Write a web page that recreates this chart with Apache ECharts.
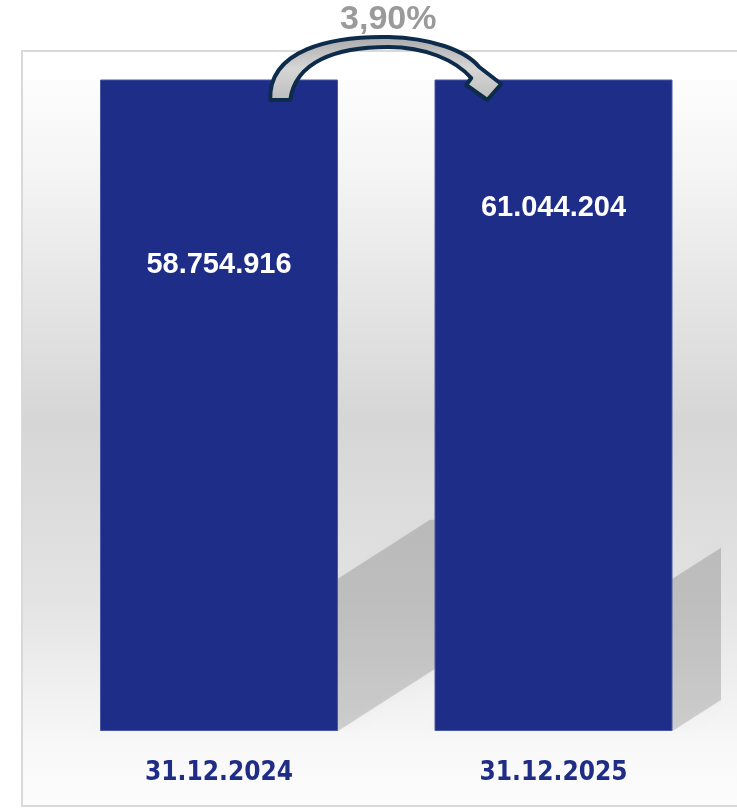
<!DOCTYPE html>
<html>
<head>
<meta charset="utf-8">
<script src="https://cdn.jsdelivr.net/npm/echarts@6/dist/echarts.min.js"></script>
<style>html,body{margin:0;padding:0;background:#fff;}#c{width:737px;height:808px;}</style>
</head>
<body>
<div id="c"></div>
<script>
// ---- data ----
const categories = ['31.12.2024', '31.12.2025'];
const values = [58754916, 61044204];
const axisMax = 58000000;          // value axis upper bound (both bars reach the top)
// ---- style (label lift above bar base, px) ----
const labelLift = [452, 509];

const BAR_W = 238;
const fmtNum = v => String(v).replace(/\B(?=(\d{3})+(?!\d))/g, '.');
const pct = ((values[1] / values[0] - 1) * 100).toFixed(2).replace('.', ',') + '%';

// curved arrow shape (relative to its anchor point)
echarts.graphic.registerShape('curvedArrow', echarts.graphic.extendShape({
  shape: {},
  buildPath: function (ctx) {
    ctx.moveTo(-116, 20);
    ctx.bezierCurveTo(-118, -30, -56, -44, 2, -43);
    ctx.bezierCurveTo(44, -42, 79, -30, 93, -13);
    ctx.lineTo(115, 4);
    ctx.lineTo(101, 20);
    ctx.lineTo(80, 5);
    ctx.lineTo(85, -2);
    ctx.bezierCurveTo(69, -20, 39, -33, 2, -33);
    ctx.bezierCurveTo(-51, -33, -91, -18, -96, 20);
    ctx.closePath();
  }
}));

const chart = echarts.init(document.getElementById('c'), null, {renderer: 'canvas'});

const option = {
  animation: false,
  grid: {left: 51.75, right: 16.25, top: 80, bottom: 77},
  xAxis: {
    type: 'category',
    data: categories,
    axisLine: {show: false},
    axisTick: {show: false},
    axisLabel: {
      color: '#1f2d86', fontWeight: 'bold', fontSize: 26,
      fontFamily: "'Liberation Sans Narrow','DejaVu Sans Condensed','Arial Narrow',sans-serif",
      margin: 29
    }
  },
  yAxis: {
    type: 'value', min: 0, max: axisMax, show: false,
    splitLine: {show: false}
  },
  series: [
    {
      type: 'custom',
      z: 1,
      clip: true,
      silent: true,
      data: categories.map((c, i) => [i, 0]),
      renderItem: function (params, api) {
        const base = api.coord([api.value(0), 0]);
        const L = 330, k = 0.64;
        const x0 = base[0] - BAR_W / 2, x1 = base[0] + BAR_W / 2, y = base[1];
        return {
          type: 'polygon',
          shape: {points: [[x0, y], [x1, y], [x1 + L, y - k * L], [x0 + L, y - k * L]]},
          style: {
            fill: 'rgba(0,0,0,0.15)',
            shadowBlur: 10, shadowColor: 'rgba(0,0,0,0.14)'
          }
        };
      }
    },
    {
      type: 'bar',
      z: 3,
      barWidth: BAR_W,
      clip: true,
      data: values.map((v, i) => ({
        value: v,
        label: {distance: labelLift[i]}
      })),
      itemStyle: {color: '#1e2d87', borderColor: '#4b58a3', borderWidth: 1},
      label: {
        show: true,
        position: 'insideBottom',
        color: '#ffffff',
        fontWeight: 'bold',
        fontSize: 29,
        fontFamily: "'Liberation Sans', Arial, sans-serif",
        formatter: p => fmtNum(p.value)
      }
    }
  ]
};
chart.setOption(option);

// annotation graphics anchored to chart coordinates
const c0 = chart.convertToPixel({xAxisIndex: 0}, categories[0]);
const c1 = chart.convertToPixel({xAxisIndex: 0}, categories[1]);
const topY = chart.convertToPixel({yAxisIndex: 0}, axisMax);
const mid = (c0 + c1) / 2;

chart.setOption({
  graphic: [
    {
      type: 'rect', z: -20, silent: true,
      shape: {x: 22, y: 51, width: 730, height: 755},
      style: {fill: '#ffffff', stroke: '#d9d9d9', lineWidth: 2}
    },
    {
      type: 'rect', z: -19, silent: true,
      shape: {x: 23, y: topY, width: 714, height: 805 - topY},
      style: {
        fill: new echarts.graphic.LinearGradient(0, 0, 0, 1, [
          {offset: 0, color: '#fdfdfd'},
          {offset: 0.12, color: '#f5f5f5'},
          {offset: 0.47, color: '#d6d6d6'},
          {offset: 0.72, color: '#e4e4e4'},
          {offset: 0.92, color: '#f8f8f8'},
          {offset: 1, color: '#fcfcfc'}
        ])
      }
    },
    {
      type: 'curvedArrow', z: 100, silent: true,
      x: mid, y: topY,
      shape: {},
      style: {
        fill: new echarts.graphic.LinearGradient(0, 0, 0, 1, [
          {offset: 0, color: '#a8a8a8'},
          {offset: 0.5, color: '#d6d6d6'},
          {offset: 1, color: '#bcbcbc'}
        ]),
        stroke: '#0d2b4a', lineWidth: 4, lineJoin: 'round'
      }
    },
    {
      type: 'text', z: 101, silent: true,
      x: mid + 2, y: 20,
      style: {
        text: pct, align: 'center', verticalAlign: 'middle',
        fill: '#9a9a9a', fontSize: 34, fontWeight: 'bold',
        fontFamily: "'Liberation Sans', Arial, sans-serif"
      }
    }
  ]
});
</script>
</body>
</html>
